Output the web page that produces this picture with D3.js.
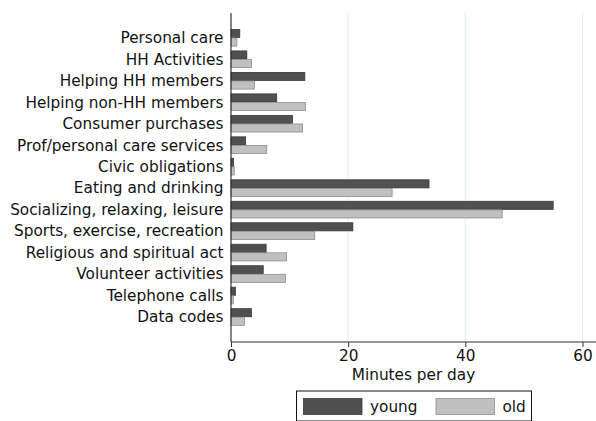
<!DOCTYPE html>
<html><head><meta charset="utf-8">
<script src="https://cdn.jsdelivr.net/npm/d3@7"></script>
<style>body{margin:0;background:#fff}svg{display:block}text{font-family:"DejaVu Sans",Verdana,sans-serif}</style>
</head><body><svg id="c" width="596" height="421"></svg>
<script>
const categories = ["Personal care","HH Activities","Helping HH members","Helping non-HH members","Consumer purchases","Prof/personal care services","Civic obligations","Eating and drinking","Socializing, relaxing, leisure","Sports, exercise, recreation","Religious and spiritual act","Volunteer activities","Telephone calls","Data codes"];
const young = [1.5,2.7,12.6,7.8,10.5,2.5,0.45,33.8,55.0,20.8,6.0,5.5,0.75,3.5];
const old = [1.0,3.5,4.0,12.7,12.2,6.1,0.55,27.5,46.3,14.3,9.5,9.3,0.4,2.3];
const seriesNames = ["young","old"];
const xTicks = [0,20,40,60];

const FS = 15.3;
const svg = d3.select("#c");
const x = d3.scaleLinear().domain([0,60]).range([231,582.5]);
const y = d3.scaleBand().domain(categories).range([26.8,327.5]).paddingInner(0.2).paddingOuter(0.1);
const sub = d3.scaleBand().domain(seriesNames).range([0,y.bandwidth()]);
const fills = {young:"#505050", old:"#c0c0c0"};
const strokes = {young:"#3a3a3a", old:"#8e8e8e"};
const plotTop = 13, plotBottom = 342;

// gridlines
svg.append("g").selectAll("line").data(xTicks.filter(d=>d>0)).join("line")
  .attr("x1",d=>x(d)).attr("x2",d=>x(d)).attr("y1",plotTop).attr("y2",plotBottom)
  .attr("stroke","#e6eff0").attr("stroke-width",1.2);

// bars
const data = [];
categories.forEach((c,i)=>{data.push({c,s:"young",v:young[i]});data.push({c,s:"old",v:old[i]});});
svg.append("g").selectAll("rect").data(data).join("rect")
  .attr("x",x(0)).attr("y",d=>y(d.c)+sub(d.s)+0.5)
  .attr("width",d=>x(d.v)-x(0)).attr("height",sub.bandwidth()-0.5)
  .attr("fill",d=>fills[d.s]).attr("stroke",d=>strokes[d.s]).attr("stroke-width",0.8);

// category labels
svg.append("g").selectAll("text").data(categories).join("text")
  .attr("x",223.5).attr("y",d=>y(d)+y.bandwidth()/2+5.6)
  .attr("text-anchor","end").attr("font-size",FS).attr("fill","#111").text(d=>d);

// axes
const xa = svg.append("g").attr("transform",`translate(0,${plotBottom})`)
  .call(d3.axisBottom(x).tickValues(xTicks).tickSize(5).tickPadding(3.5));
xa.select(".domain").remove();
xa.selectAll("line").attr("stroke","#333");
xa.selectAll("text").attr("font-size",FS).attr("fill","#111").attr("font-family","DejaVu Sans");
svg.append("line").attr("x1",x(0)).attr("x2",596).attr("y1",plotBottom).attr("y2",plotBottom).attr("stroke","#333").attr("stroke-width",1.2);
svg.append("line").attr("x1",x(0)).attr("x2",x(0)).attr("y1",plotTop).attr("y2",plotBottom).attr("stroke","#333").attr("stroke-width",1.2);

svg.append("text").attr("x",413.5).attr("y",379.5).attr("text-anchor","middle").attr("font-size",FS).attr("fill","#111").text("Minutes per day");

// legend
const lg = svg.append("g");
lg.append("rect").attr("x",296.5).attr("y",391).attr("width",235).attr("height",30).attr("fill","#fff").attr("stroke","#111").attr("stroke-width",1);
const lx = {young:303.5, old:436};
seriesNames.forEach(s=>{
  lg.append("rect").attr("x",lx[s]).attr("y",398.5).attr("width",58.5).attr("height",16)
    .attr("fill",fills[s]).attr("stroke",strokes[s]).attr("stroke-width",0.8);
  lg.append("text").attr("x",lx[s]+66.5).attr("y",412).attr("font-size",FS).attr("fill","#111").text(s);
});
</script></body></html>
